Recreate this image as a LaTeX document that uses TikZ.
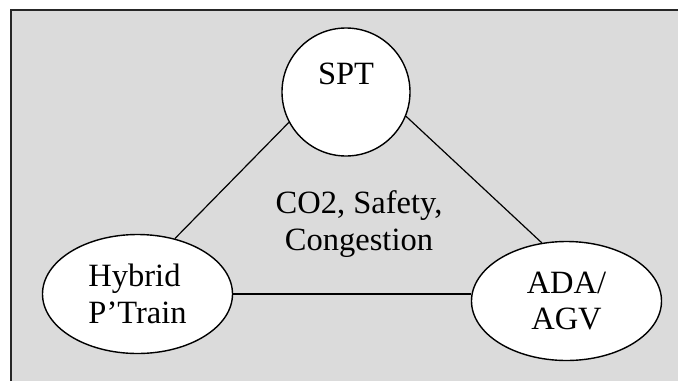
\documentclass[tikz,border=0pt]{standalone}
\usepackage{fontspec}
\setmainfont{Liberation Serif}
\usetikzlibrary{shapes.geometric}

\begin{document}
\begin{tikzpicture}[x=1pt, y=-1pt, node distance=202pt]

\tikzstyle{backdrop} = [fill=black!14]
\tikzstyle{frame} = [draw=black!85, line width=1.6pt]
\tikzstyle{topic} = [circle, minimum size=128pt, inner sep=0pt, draw=black, line width=1.4pt, fill=white, text centered, align=center, font=\fontsize{32.5}{37}\selectfont]
\tikzstyle{oval} = [ellipse, minimum width=190pt, minimum height=119pt, inner sep=0pt, draw=black, line width=1.4pt, fill=white, font=\fontsize{32.5}{36.5}\selectfont]
\tikzstyle{issue} = [align=center, font=\fontsize{32.5}{37}\selectfont]
\tikzstyle{link} = [line width=1.2pt]

\useasboundingbox (0,0) rectangle (678,381);
\fill [backdrop] (11,10) rectangle (678,381);
\draw [frame] (11,381) -- (11,10) -- (678,10);

\node (spt) [topic] at (346,92) {SPT\\\phantom{S}};
\node (hybrid) [oval, below of=spt, xshift=-208.5pt, align=left] {Hybrid\\P’Train};
\node (ada) [oval, right of=hybrid, xshift=227pt, yshift=-7pt, align=center] {ADA/\\AGV};
\node (issues) [issue, below of=spt, node distance=132pt, xshift=13pt] {CO2, Safety,\\Congestion};

\draw [link] (spt.208) -- (hybrid.56);
\draw [link] (spt.338) -- (ada.113);
\draw [link] (hybrid.east) -- (hybrid.east -| ada.west);

\end{tikzpicture}
\end{document}
